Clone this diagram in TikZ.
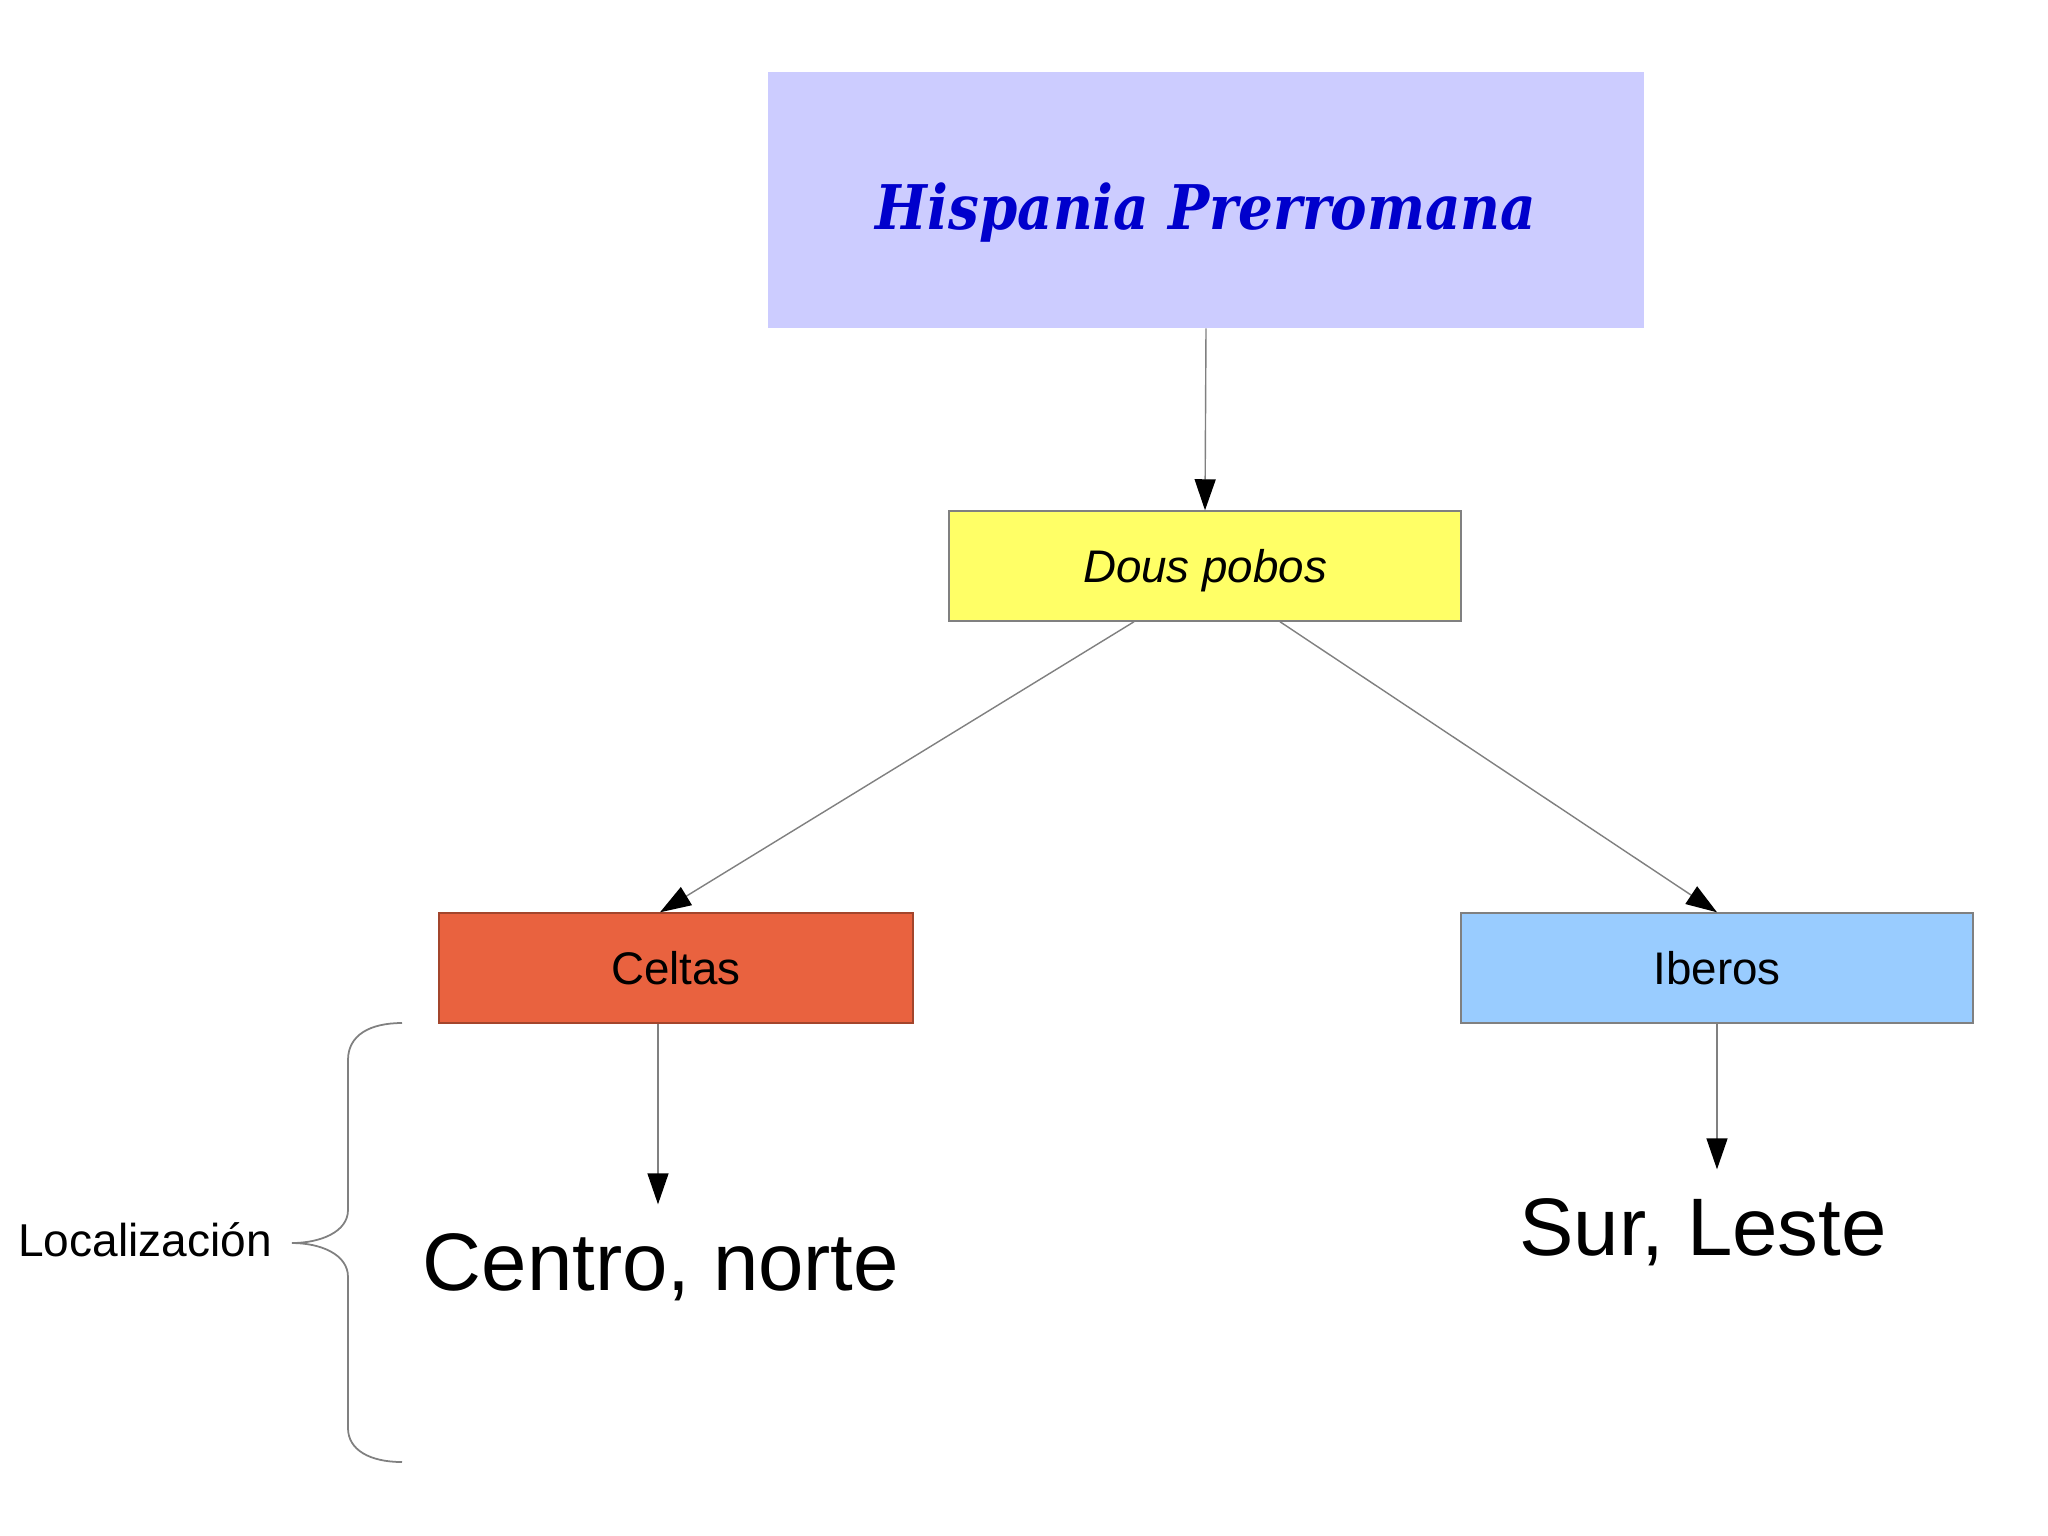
\documentclass[tikz,border=0pt]{standalone}
\usepackage{fontspec}
\setmainfont{Liberation Sans}
\newfontfamily\titlefont{DejaVu Serif}
\usetikzlibrary{arrows.meta,calc}
\definecolor{titlefill}{HTML}{CCCCFF}
\definecolor{titletext}{HTML}{0000CC}
\definecolor{yellowfill}{HTML}{FFFF66}
\definecolor{redfill}{HTML}{E9623F}
\definecolor{bluefill}{HTML}{99CCFF}
\definecolor{linegray}{HTML}{808080}
\tikzset{
  box/.style={draw=linegray, line width=0.4pt, minimum width=5.12cm, minimum height=1.1cm, inner sep=0pt, text height=11pt, text depth=1.5pt, font=\fontsize{13pt}{14pt}\selectfont},
  arr/.style={draw=linegray, line width=0.4pt, -{Triangle[length=3.1mm,width=2.1mm,color=black]}},
  bigtext/.style={anchor=base, inner xsep=2pt, inner ysep=0.28cm, font=\fontsize{23.2pt}{26pt}\selectfont},
}
\begin{document}
\begin{tikzpicture}[x=0.01cm,y=-0.01cm]
\useasboundingbox (0,0) rectangle (2048,1535);
\fill[white] (0,0) rectangle (2048,1535);
\node[fill=titlefill, minimum width=8.76cm, minimum height=2.55cm, inner sep=0pt,
  text height=20.5pt, text depth=4pt,
  text=titletext, font=\titlefont\bfseries\itshape\fontsize{17.5pt}{22pt}\selectfont] (title) at (1206,200) {\scalebox{0.89}[1]{Hispania Prerromana}};
\node[box, fill=yellowfill] (dous) at (1205,566) {\itshape Dous pobos};
\node[box, fill=redfill, draw=redfill!70!black, minimum width=4.74cm] (celtas) at (676,968) {Celtas};
\node[box, fill=bluefill] (iberos) at (1717,968) {Iberos};
\node[bigtext] (centro) at (661,1290) {Centro, norte};
\node[bigtext] (sur) at (1703,1255) {Sur, Leste};
\node[anchor=base, inner sep=0pt, font=\fontsize{13.1pt}{15pt}\selectfont] (loc) at (145,1256) {Localización};
\draw[arr] (title.south) -- (dous.north);
\draw[arr] ($(dous.south)+(-71,0)$) -- ($(celtas.north)+(-16,0)$);
\draw[arr] ($(dous.south)+(75,0)$) -- (iberos.north);
\draw[arr] ($(celtas.south)+(-18,0)$) coordinate (c1) -- (c1 |- centro.north);
\draw[arr] (iberos.south) -- (iberos.south |- sur.north);
\coordinate (btop) at (402,1023);
\coordinate (bbot) at (402,1462);
\coordinate (btip) at (292,1243);
\draw[linegray, line width=0.5pt] (btop) .. controls (370,1023) and (348,1035) .. (348,1060)
  -- (348,1210) .. controls (348,1232) and (320,1243) .. (btip)
  .. controls (320,1243) and (348,1254) .. (348,1277)
  -- (348,1428) .. controls (348,1450) and (370,1462) .. (bbot);
\end{tikzpicture}
\end{document}
